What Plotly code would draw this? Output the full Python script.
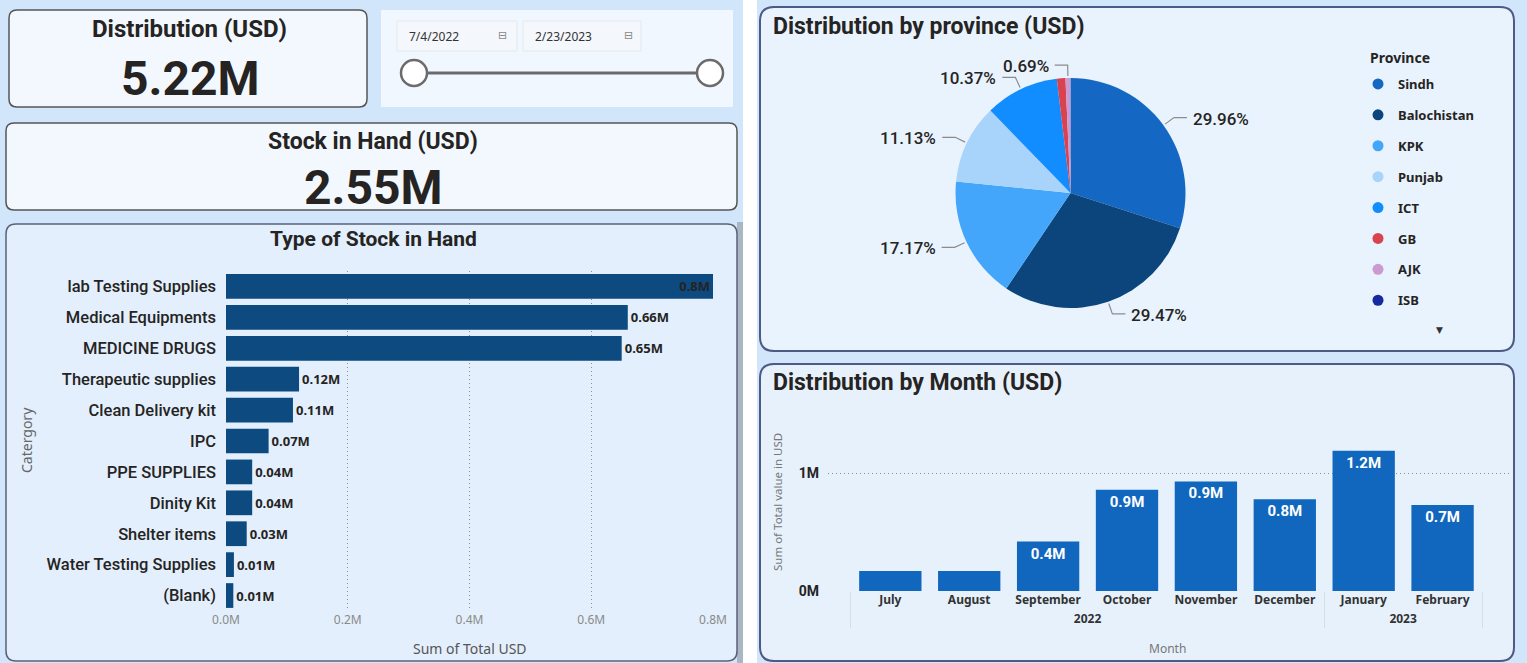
import math
import plotly.graph_objects as go

# ---------------- data ----------------
stock_categories = ["lab Testing Supplies", "Medical Equipments", "MEDICINE DRUGS",
                    "Therapeutic supplies", "Clean Delivery kit", "IPC", "PPE SUPPLIES",
                    "Dinity Kit", "Shelter items", "Water Testing Supplies", "(Blank)"]
stock_values_m = [0.80, 0.66, 0.65, 0.12, 0.11, 0.07, 0.043, 0.043, 0.034, 0.013, 0.012]
stock_ticks = [0.0, 0.2, 0.4, 0.6, 0.8]

provinces = ["Sindh", "Balochistan", "KPK", "Punjab", "ICT", "GB", "AJK", "ISB"]
province_share = [29.96, 29.47, 17.17, 11.13, 10.37, 1.20, 0.69, 0.01]
province_colors = ["#1467c2", "#0c457c", "#44a6fb", "#a8d3fb", "#118dff", "#d9434f", "#c99bd0", "#142a9e"]
province_show_label = [True, True, True, True, True, False, True, False]

month_names = ["July", "August", "September", "October", "November", "December", "January", "February"]
month_years = ["2022", "2022", "2022", "2022", "2022", "2022", "2023", "2023"]
month_values_m = [0.17, 0.17, 0.42, 0.86, 0.93, 0.78, 1.19, 0.73]
month_show_label = [False, False, True, True, True, True, True, True]
month_ticks = [0, 1]

kpi_distribution = "5.22M"
kpi_stock = "2.55M"
date_start = "7/4/2022"
date_end = "2/23/2023"

# ---------------- helpers ----------------
W, H = 1527, 663
def px(x):
    return x / W
def py(y):
    return 1 - y / H

def rrect(x0, y0, x1, y1, r, fill, line=None, lw=1.5):
    X0, X1 = px(x0), px(x1)
    rx, ry = r / W, r / H
    Y0, Y1 = py(y0), py(y1)
    path = (f"M {X0+rx},{Y0} L {X1-rx},{Y0} Q {X1},{Y0} {X1},{Y0-ry} "
            f"L {X1},{Y1+ry} Q {X1},{Y1} {X1-rx},{Y1} L {X0+rx},{Y1} "
            f"Q {X0},{Y1} {X0},{Y1+ry} L {X0},{Y0-ry} Q {X0},{Y0} {X0+rx},{Y0} Z")
    return dict(type="path", xref="paper", yref="paper", path=path, fillcolor=fill,
                layer="below", line=dict(width=lw if line else 0, color=line or "rgba(0,0,0,0)"))

def rect(x0, y0, x1, y1, fill, line=None, lw=1):
    return dict(type="rect", xref="paper", yref="paper", x0=px(x0), x1=px(x1), y0=py(y1), y1=py(y0),
                fillcolor=fill, layer="below",
                line=dict(width=lw if line else 0, color=line or "rgba(0,0,0,0)"))

TITLE_FONT = "Roboto"
DARK = "#252423"
DOT = "1px,3px"

fig = go.Figure()

# ---------------- bar chart: Type of Stock in Hand ----------------
bar_pos = ["inside"] + ["outside"] * (len(stock_values_m) - 1)
lblfont = dict(family="Noto Sans", size=13, color=DARK, weight="bold")
fig.add_trace(go.Bar(
    x=stock_values_m, y=stock_categories, orientation="h",
    marker=dict(color="#0c4a80", line=dict(width=0)),
    texttemplate=["%{x:.1f}M"] + ["%{x:.2f}M"] * (len(stock_values_m) - 1),
    textposition=bar_pos, insidetextanchor="end",
    textfont=lblfont, insidetextfont=lblfont, outsidetextfont=lblfont,
    cliponaxis=False, width=0.8, showlegend=False, hoverinfo="skip",
    xaxis="x", yaxis="y"))

# ---------------- month chart ----------------
fig.add_trace(go.Bar(
    x=[month_years, month_names], y=month_values_m,
    marker=dict(color="#1167be", line=dict(width=0)),
    texttemplate=["%{y:.1f}M" if s else "" for s in month_show_label],
    textposition="inside", insidetextanchor="end",
    textfont=dict(family="Roboto", size=15, color="white", weight="bold"),
    width=0.79, showlegend=False, hoverinfo="skip",
    xaxis="x2", yaxis="y2"))

# ---------------- pie ----------------
PIE_X0, PIE_X1, PIE_Y0, PIE_Y1 = 955, 1186, 78, 308
fig.add_trace(go.Pie(
    labels=provinces, values=province_share, sort=False, direction="clockwise",
    rotation=0, marker=dict(colors=province_colors, line=dict(width=0)),
    textinfo="none", automargin=False,
    domain=dict(x=[px(PIE_X0), px(PIE_X1)], y=[py(PIE_Y1), py(PIE_Y0)]),
    showlegend=False, hoverinfo="skip"))

# legend entries (circle markers) for provinces
for i, (p, c) in enumerate(zip(provinces, province_colors)):
    fig.add_trace(go.Scatter(x=[None], y=[None], mode="markers", name=p,
                             marker=dict(color=c, size=11, symbol="circle"),
                             legendgroup=f"g{i}", showlegend=True,
                             xaxis="x3", yaxis="y3", hoverinfo="skip"))

shapes = [
    rect(743, 0, 757, 663, "#ffffff"),
    rect(737, 222, 743, 663, "#a9b6c6"),
    rrect(9, 10, 367, 107, 8, "#f3f8fe", "#555555", 1.5),
    rect(381, 10, 733, 107, "#f1f7fe"),
    rect(397, 21, 517, 51, "#f4f7fb", "#e3e8ee", 1),
    rect(523, 21, 641, 51, "#f4f7fb", "#e3e8ee", 1),
    dict(type="line", xref="paper", yref="paper", x0=px(414), x1=px(710), y0=py(73), y1=py(73),
         line=dict(color="#6b6b6b", width=3), layer="above"),
    dict(type="circle", xref="paper", yref="paper", x0=px(401), x1=px(427), y0=py(86), y1=py(60),
         fillcolor="white", line=dict(color="#6b6b6b", width=2.5), layer="above"),
    dict(type="circle", xref="paper", yref="paper", x0=px(697), x1=px(723), y0=py(86), y1=py(60),
         fillcolor="white", line=dict(color="#6b6b6b", width=2.5), layer="above"),
    rrect(6, 123, 737, 210, 8, "#f3f8fe", "#555555", 1.5),
    rrect(6, 224, 737, 661, 10, "#e3effc", "#5b6275", 1.5),
    rrect(760, 7, 1514, 351, 14, "#e9f3fd", "#4c5a85", 2),
    rrect(760, 364, 1514, 661, 14, "#e7f1fc", "#4c5a85", 2),
]

def ann(text, x, y, size, color=DARK, family=TITLE_FONT, xanchor="center", angle=0, bold=True):
    t = f"<b>{text}</b>" if bold else text
    return dict(text=t, x=px(x), y=py(y), xref="paper", yref="paper", showarrow=False,
                xanchor=xanchor, yanchor="middle", textangle=angle,
                font=dict(family=family, size=size, color=color))

annotations = [
    ann("Distribution (USD)", 189, 29, 24),
    ann(kpi_distribution, 190, 78, 48),
    ann(date_start, 407, 36, 12, "#333333", "Noto Sans", "left", bold=False),
    ann("⊟", 503, 35, 11, "#888888", "DejaVu Sans", bold=False),
    ann(date_end, 533, 36, 12, "#333333", "Noto Sans", "left", bold=False),
    ann("⊟", 628, 35, 11, "#888888", "DejaVu Sans", bold=False),
    ann("Stock in Hand (USD)", 373, 141, 23),
    ann(kpi_stock, 373, 187, 48),
    ann("Type of Stock in Hand", 373, 239, 21),
    ann("Catergory", 26, 440, 14, "#666666", "Noto Sans", angle=-90, bold=False),
    ann("Sum of Total USD", 470, 648, 14, "#555555", "Noto Sans", bold=False),
    ann("Distribution by province (USD)", 771, 27, 23, xanchor="left"),
    ann("Province", 1368, 57, 14, DARK, "Noto Sans", xanchor="left"),
    ann("▼", 1439, 330, 9, "#333333", "DejaVu Sans", bold=False),
    ann("Distribution by Month (USD)", 771, 383, 23, xanchor="left"),
    ann("Sum of Total value in USD", 777, 502, 11.5, "#777777", "Noto Sans", angle=-90, bold=False),
    ann("Month", 1167, 648, 12, "#777777", "Noto Sans", bold=False),
]

# pie outside labels with leader lines, derived from the shares
cx, cy = (PIE_X0 + PIE_X1) / 2, (PIE_Y0 + PIE_Y1) / 2
pr = min(PIE_X1 - PIE_X0, PIE_Y1 - PIE_Y0) / 2
total = sum(province_share)
cum = 0.0
for share, show in zip(province_share, province_show_label):
    mid = (cum + share / 2) / total * 2 * math.pi
    cum += share
    if not show:
        continue
    s, c = math.sin(mid), math.cos(mid)
    ex, ey = cx + (pr + 2) * s, cy - (pr + 2) * c
    bx, by = cx + (pr + 13) * s, cy - (pr + 13) * c
    side = 1 if s >= 0 else -1
    hx = bx + side * 13
    shapes.append(dict(type="path", xref="paper", yref="paper", layer="above",
                       path=f"M {px(ex)},{py(ey)} L {px(bx)},{py(by)} L {px(hx)},{py(by)}",
                       line=dict(color="#8c8c8c", width=1.2)))
    annotations.append(dict(text=f"{share / total * 100:.2f}%", x=px(hx + side * 4), y=py(by + 1),
                            xref="paper", yref="paper", showarrow=False,
                            xanchor="left" if side > 0 else "right", yanchor="middle",
                            font=dict(family="Roboto", size=17, color=DARK, weight=500)))

fig.update_layout(
    width=W, height=H, autosize=False,
    margin=dict(l=0, r=0, t=0, b=0, autoexpand=False),
    paper_bgcolor="#d2e6fb", plot_bgcolor="rgba(0,0,0,0)",
    shapes=shapes, annotations=annotations,
    xaxis=dict(domain=[px(226), px(713)], range=[0, 0.8], anchor="y", automargin=False,
               tickmode="array", tickvals=stock_ticks, ticktext=[f"{v:.1f}M" for v in stock_ticks],
               showgrid=True, gridcolor="#8f8f8f", griddash=DOT, gridwidth=1,
               zeroline=False, showline=False, ticks="",
               tickfont=dict(family="Noto Sans", size=12, color="#8a8a8a"), fixedrange=True),
    yaxis=dict(domain=[py(611), py(271)], anchor="x", autorange="reversed", automargin=False,
               showgrid=False, zeroline=False, showline=False, ticks="", ticklabelstandoff=9,
               tickfont=dict(family=TITLE_FONT, size=16.5, color=DARK, weight=500), fixedrange=True),
    xaxis2=dict(domain=[px(828), px(1512)], range=[-0.79, 7.88], anchor="y2", type="multicategory",
                automargin=False, showgrid=False, zeroline=False, showline=False,
                ticks="outside", ticklen=10, tickcolor="rgba(0,0,0,0)",
                showdividers=True, dividercolor="#d5dde6", dividerwidth=1,
                tickfont=dict(family="Noto Sans", size=12, color="#333333", weight="bold"),
                fixedrange=True),
    yaxis2=dict(domain=[py(591), py(432)], range=[0, 1.35], anchor="x2", automargin=False,
                tickmode="array", tickvals=month_ticks, ticktext=[f"{v}M" for v in month_ticks],
                showgrid=True, gridcolor="#8f8f8f", griddash=DOT, gridwidth=1,
                zeroline=False, showline=False, ticks="", ticklabelstandoff=8,
                tickfont=dict(family="Roboto", size=14, color=DARK, weight="bold"), fixedrange=True),
    xaxis3=dict(domain=[0, 0.001], visible=False, anchor="y3", automargin=False),
    yaxis3=dict(domain=[0, 0.001], visible=False, anchor="x3", automargin=False),
    legend=dict(x=px(1358), y=py(69), xanchor="left", yanchor="top",
                bgcolor="rgba(0,0,0,0)", tracegroupgap=11, itemwidth=30,
                font=dict(family="Noto Sans", size=13, color=DARK, weight="bold")),
)

fig.write_html("out.html")
